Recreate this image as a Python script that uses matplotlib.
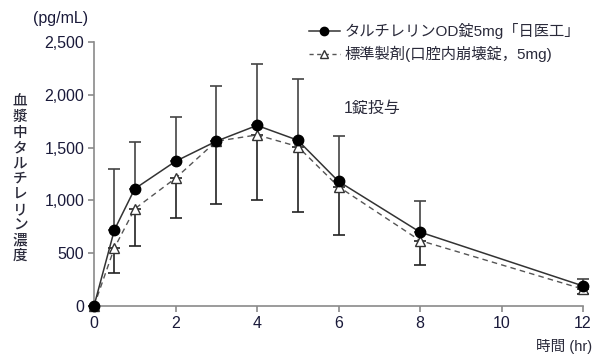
import numpy as np
import matplotlib.pyplot as plt
from matplotlib.lines import Line2D

plt.rcParams['font.family'] = ['Liberation Sans', 'Noto Sans CJK JP', 'DejaVu Sans']

# time points (hr)
hours = [0, 0.5, 1, 2, 3, 4, 5, 6, 8, 12]
# test drug mean and upper SD
test_mean = [0, 720, 1110, 1370, 1560, 1710, 1570, 1180, 700, 190]
test_sd = [0, 580, 440, 420, 520, 580, 580, 430, 290, 70]
# reference drug mean and lower SD
ref_mean = [0, 550, 920, 1210, 1560, 1620, 1510, 1130, 620, 160]
ref_sd = [0, 240, 350, 380, 590, 620, 620, 460, 230, 50]

test_label = 'タルチレリンOD錠5mg「日医工」'
ref_label = '標準製剤(口腔内崩壊錠，5mg)'
ylabel_text = '血漿中タルチレリン濃度'

fig = plt.figure(figsize=(6.09, 3.56), dpi=100)
ax = fig.add_axes([94 / 609, 1 - 306 / 356, 489 / 609, 264 / 356])

ax.errorbar(hours, ref_mean, yerr=[ref_sd, np.zeros(len(ref_sd))],
            fmt='none', ecolor='#222222', elinewidth=1.2, capsize=4,
            capthick=1.2, clip_on=False)
ax.errorbar(hours, test_mean, yerr=[np.zeros(len(test_sd)), test_sd],
            fmt='none', ecolor='#444444', elinewidth=1.2, capsize=4,
            capthick=1.2, clip_on=False)

ax.plot(hours, ref_mean, color='#555555', linestyle=(0, (4, 3)), lw=1.0,
        marker='^', markersize=6.5, markerfacecolor='white',
        markeredgecolor='#333333', markeredgewidth=1.0, clip_on=False, zorder=3)
ax.plot(hours, test_mean, color='#333333', lw=1.1, marker='o', markersize=7.5,
        markerfacecolor='black', markeredgecolor='black', clip_on=False, zorder=4)

ax.set_xlim(0, 12)
ax.set_ylim(0, 2500)
ax.set_xticks([0, 2, 4, 6, 8, 10, 12])
ax.set_yticks([0, 500, 1000, 1500, 2000, 2500])
ax.set_yticklabels(['0', '500', '1,000', '1,500', '2,000', '2,500'])

for side in ['top', 'right']:
    ax.spines[side].set_visible(False)
for side in ['left', 'bottom']:
    ax.spines[side].set_color('#8a8a8a')
    ax.spines[side].set_linewidth(1.2)
ax.tick_params(direction='out', length=4, width=1.2, color='#8a8a8a',
               labelsize=11.5, labelcolor='#1a1a3a', pad=3)

fig.text(33 / 609, 1 - 18 / 356, '(pg/mL)', fontsize=11.5, color='#1a1a3a',
         va='center', ha='left')
fig.text(20 / 609, 1 - 179 / 356, '\n'.join(ylabel_text), fontsize=10.5,
         color='#2a2a3a', va='center', ha='center', linespacing=1.13,
         fontweight='medium')
fig.text(592 / 609, 1 - 347 / 356, '時間 (hr)', fontsize=10.5, color='#2a2a3a',
         va='center', ha='right')
ax.text((344 - 94) / 489, (306 - 108) / 264, '1錠投与', transform=ax.transAxes,
        fontsize=11.5, color='#2a2a3a', va='center', ha='left')

handles = [
    Line2D([], [], color='#333333', lw=1.1, marker='o', markersize=6,
           markerfacecolor='black', markeredgecolor='black'),
    Line2D([], [], color='#555555', lw=1.0, linestyle=(0, (3, 2.5)), marker='^',
           markersize=6, markerfacecolor='white', markeredgecolor='#333333'),
]
ax.legend(handles, [test_label, ref_label], loc='upper left',
          bbox_to_anchor=((309 - 94) / 489, (306 - 23) / 264), frameon=False,
          fontsize=11, handlelength=2.0, handletextpad=0.3, labelspacing=0.45,
          borderaxespad=0, borderpad=0, labelcolor='#2a2a3a')

fig.savefig('out.png', dpi=100)
